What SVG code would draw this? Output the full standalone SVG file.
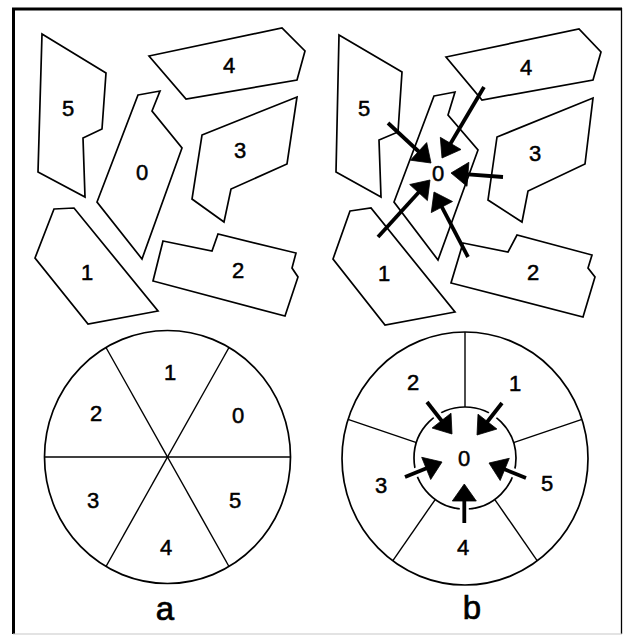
<svg xmlns="http://www.w3.org/2000/svg" width="624" height="637" viewBox="0 0 624 637">
<defs>
<style>
.shape{fill:#fff;stroke:#000;stroke-width:1.7;stroke-linejoin:miter}
.ring{fill:none;stroke:#000;stroke-width:1.7}
.spoke{stroke:#000;stroke-width:1.4}
.arr{stroke:#000;stroke-width:3.8;fill:none}
.head{fill:#000;stroke:#000;stroke-width:0.8;stroke-linejoin:miter}
.halo{stroke:#fff;stroke-width:9;fill:none}
.lbl{font-family:"Liberation Sans",Arial,sans-serif;font-size:22px;text-anchor:middle;fill:#000;stroke:#000;stroke-width:0.5}
.cap{font-family:"Liberation Sans",Arial,sans-serif;font-size:33px;text-anchor:middle;fill:#000;stroke:#000;stroke-width:0.7}
</style>
</defs>
<rect width="624" height="637" fill="#fff"/>
<g id="frame">
<line x1="13.5" y1="8" x2="13.5" y2="634" stroke="#000" stroke-width="3"/>
<line x1="12" y1="9" x2="622" y2="9" stroke="#000" stroke-width="3"/>
<line x1="621.5" y1="8" x2="621.5" y2="634" stroke="#000" stroke-width="1.3"/>
<line x1="13" y1="634" x2="622" y2="634" stroke="#c8c8c8" stroke-width="1.2"/>
</g>

<!-- Panel a: pieces -->
<g id="a-piece-5"><polygon class="shape" points="42,34 106,73 102,129 83,138 85,197 38,172"/><text class="lbl" x="68" y="116">5</text></g>
<g id="a-piece-4"><polygon class="shape" points="149,56 282,28 305,51 297,80 186,99"/><text class="lbl" x="229" y="73">4</text></g>
<g id="a-piece-0"><polygon class="shape" points="138,95 160,91 152,111 182,148 142,259 97,202"/><text class="lbl" x="142" y="180">0</text></g>
<g id="a-piece-3"><polygon class="shape" points="202,135 297,97 287,164 231,189 224,222 192,199"/><text class="lbl" x="240" y="158">3</text></g>
<g id="a-piece-1"><polygon class="shape" points="54,209 74,208 158,311 88,324 35,258"/><text class="lbl" x="87" y="280">1</text></g>
<g id="a-piece-2"><polygon class="shape" points="163,241 212,251 218,234 296,253 292,268 298,277 285,316 153,281"/><text class="lbl" x="238" y="278">2</text></g>

<!-- Panel b: pieces -->
<g id="b-piece-5"><polygon class="shape" points="339,35 402,72 398,132 379,140 381,197 336,172"/><text class="lbl" x="364" y="116">5</text></g>
<g id="b-piece-4"><polygon class="shape" points="446,57 579,29 601,52 593,80 482,100"/><text class="lbl" x="526" y="75">4</text></g>
<g id="b-piece-3"><polygon class="shape" points="497,137 593,98 585,164 528,191 522,222 488,200"/><text class="lbl" x="535" y="161">3</text></g>
<g id="b-piece-1"><polygon class="shape" points="350,211 371,208 455,312 385,325 333,259"/><text class="lbl" x="384" y="281">1</text></g>
<g id="b-piece-2"><polygon class="shape" points="463,243 508,252 517,235 592,255 588,268 595,277 583,317 451,283"/><text class="lbl" x="533" y="280">2</text></g>
<g id="b-piece-0"><polygon class="shape" points="434,96 455,92 448,115 478,150 438,260 394,202"/><text class="lbl" x="438" y="181">0</text></g>

<!-- Panel a: pie -->
<g id="a-pie">
<ellipse class="ring" cx="167.5" cy="457" rx="123" ry="126.5"/>
<line class="spoke" x1="44.5" y1="457" x2="290.5" y2="457"/>
<line class="spoke" x1="106" y1="347.5" x2="229" y2="566.5"/>
<line class="spoke" x1="229" y1="347.5" x2="106" y2="566.5"/>
<text class="lbl" x="170" y="380">1</text>
<text class="lbl" x="238" y="423">0</text>
<text class="lbl" x="96" y="421">2</text>
<text class="lbl" x="93" y="508">3</text>
<text class="lbl" x="235" y="508">5</text>
<text class="lbl" x="166" y="555">4</text>
<text class="cap" x="165" y="620">a</text>
</g>

<!-- Panel b: ring -->
<g id="b-pie">
<ellipse class="ring" cx="465" cy="458.5" rx="123" ry="126.5"/>
<circle class="ring" cx="465" cy="458" r="51"/>
<line class="spoke" x1="465" y1="332" x2="465" y2="407"/>
<line class="spoke" x1="348" y1="419.4" x2="416.5" y2="442.7"/>
<line class="spoke" x1="582" y1="419.4" x2="513.5" y2="442.7"/>
<line class="spoke" x1="392.7" y1="560.8" x2="435" y2="499.8"/>
<line class="spoke" x1="537.3" y1="560.8" x2="495" y2="499.8"/>
<text class="lbl" x="413" y="390">2</text>
<text class="lbl" x="515" y="391">1</text>
<text class="lbl" x="464" y="466">0</text>
<text class="lbl" x="381" y="493">3</text>
<text class="lbl" x="547" y="491">5</text>
<text class="lbl" x="463" y="555">4</text>
<text class="cap" x="472" y="619">b</text>
</g>

<!-- connectors -->
<g id="connectors">
<line class="arr" x1="484" y1="87" x2="449.1" y2="146"/>
<polygon class="head" points="442,158 461,149.5 440.3,137.3"/>
<line class="arr" x1="388" y1="123" x2="420.8" y2="153.5"/>
<polygon class="head" points="431,163 410.4,160.2 426.7,142.6"/>
<line class="arr" x1="503" y1="177" x2="465" y2="174.1"/>
<polygon class="head" points="451,173 468.9,162.3 467,186.3"/>
<line class="arr" x1="378" y1="237" x2="420.6" y2="190.3"/>
<polygon class="head" points="430,180 427.4,200.6 409.7,184.5"/>
<line class="arr" x1="468" y1="257" x2="440.5" y2="204.4"/>
<polygon class="head" points="434,192 452.5,201.5 431.25,212.6"/>

<line class="halo" x1="427" y1="402" x2="446" y2="426"/>
<line class="halo" x1="502" y1="403" x2="483" y2="428"/>
<line class="halo" x1="405" y1="477" x2="434" y2="465"/>
<line class="halo" x1="526" y1="478" x2="497" y2="466"/>
<line class="halo" x1="464.3" y1="523" x2="464.3" y2="494"/>
<line class="arr" x1="427" y1="402" x2="443.4" y2="423"/>
<polygon class="head" points="452,434 432.1,428 451,413.2"/>
<line class="arr" x1="502" y1="403" x2="485.6" y2="424"/>
<polygon class="head" points="477,435 496.9,429 478,414.2"/>
<line class="arr" x1="405" y1="477" x2="429" y2="467.3"/>
<polygon class="head" points="442,462 430.7,479.5 421.7,457.3"/>
<line class="arr" x1="526" y1="478" x2="502" y2="468.3"/>
<polygon class="head" points="489,463 500.2,480.5 509.3,458.3"/>
<line class="arr" x1="464.3" y1="523" x2="464.3" y2="498"/>
<polygon class="head" points="464.3,484 452.3,501 476.3,501"/>
</g>
</svg>
